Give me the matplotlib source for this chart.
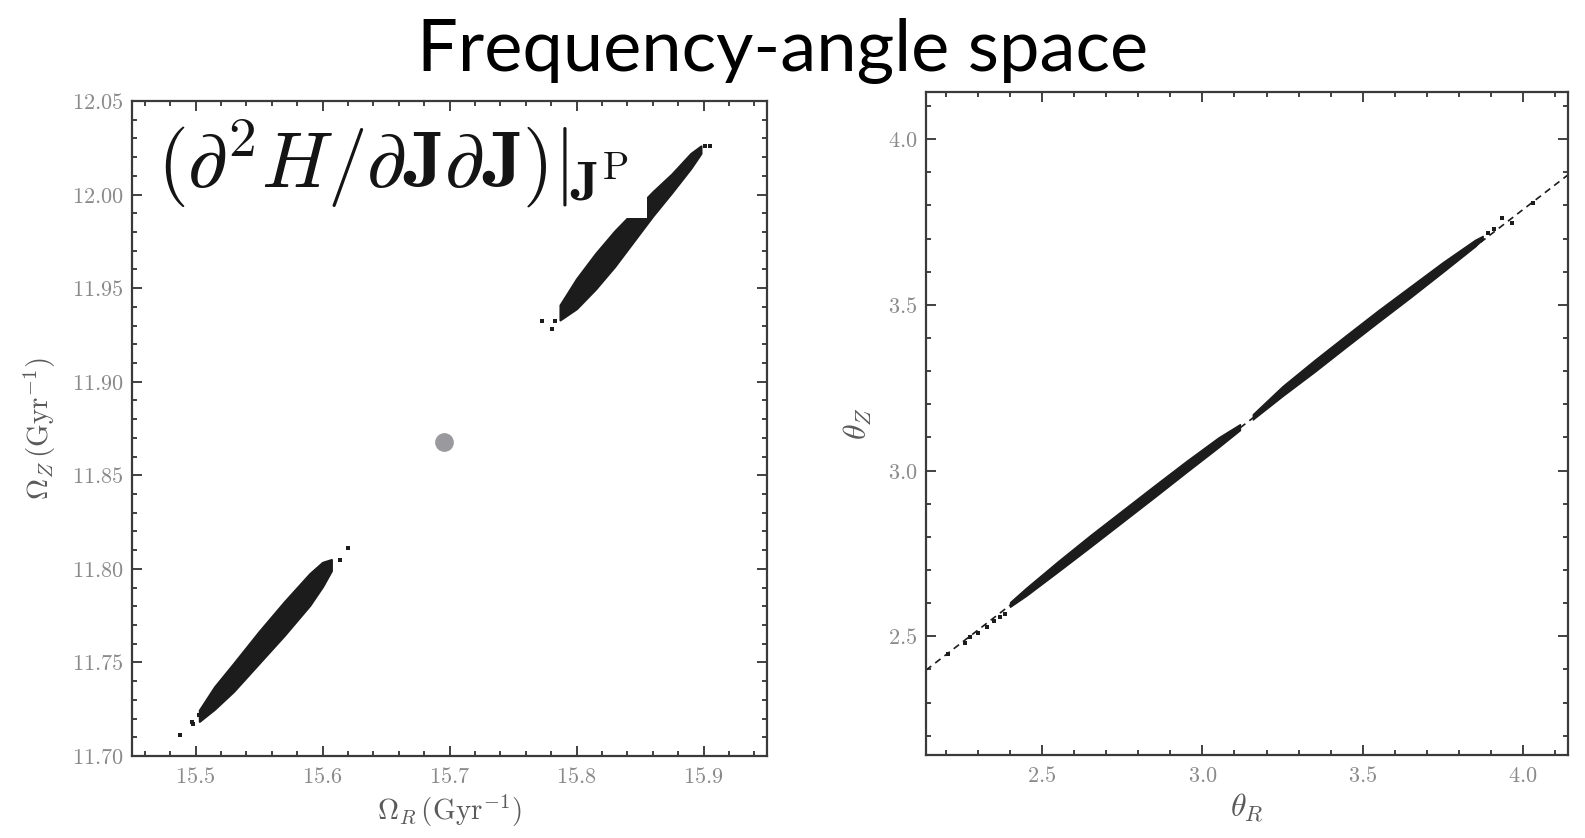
import matplotlib
matplotlib.use("Agg")
import matplotlib.pyplot as plt
from matplotlib.ticker import MultipleLocator, FuncFormatter
from matplotlib.patches import Rectangle

plt.rcParams['mathtext.fontset'] = 'cm'

# ---------------- data ----------------
# Left panel: frequency space, two clumps of stream particles (band edges)
low_x = [15.503, 15.515, 15.530, 15.550, 15.570, 15.590, 15.600, 15.607]
low_lo = [11.7185, 11.725, 11.7345, 11.7495, 11.7645, 11.7805, 11.7905, 11.799]
low_hi = [11.7245, 11.737, 11.7495, 11.7665, 11.7825, 11.7975, 11.8035, 11.805]
low_sparse_x = [15.488, 15.497, 15.498, 15.503, 15.614, 15.620]
low_sparse_y = [11.711, 11.718, 11.717, 11.722, 11.805, 11.811]

up_x = [15.787, 15.800, 15.815, 15.830, 15.845, 15.860, 15.875, 15.890, 15.898]
up_lo = [11.933, 11.939, 11.9495, 11.9615, 11.975, 11.9885, 12.001, 12.014, 12.022]
up_hi = [11.941, 11.955, 11.9685, 11.9805, 11.991, 12.0015, 12.011, 12.022, 12.026]
up_sparse_x = [15.773, 15.781, 15.783, 15.901, 15.905]
up_sparse_y = [11.9325, 11.928, 11.9325, 12.026, 12.026]

progenitor_x = [15.6957]
progenitor_y = [11.8678]

# Right panel: angle space (two stream arms + sparse particles + track)
armA_x = [2.40, 2.45, 2.55, 2.65, 2.75, 2.85, 2.95, 3.05, 3.117]
armA_lo = [2.589, 2.622, 2.695, 2.769, 2.844, 2.919, 2.995, 3.070, 3.122]
armA_hi = [2.603, 2.646, 2.727, 2.805, 2.880, 2.955, 3.029, 3.100, 3.140]
armB_x = [3.157, 3.25, 3.35, 3.45, 3.55, 3.65, 3.75, 3.85, 3.874]
armB_lo = [3.154, 3.225, 3.298, 3.374, 3.449, 3.523, 3.599, 3.676, 3.698]
armB_hi = [3.170, 3.255, 3.334, 3.410, 3.485, 3.557, 3.629, 3.696, 3.708]
sparse_r_x = [2.207, 2.26, 2.276, 2.30, 2.329, 2.35, 2.369, 2.385,
              3.89, 3.91, 3.933, 3.964, 4.03]
sparse_r_y = [2.446, 2.479, 2.497, 2.510, 2.527, 2.545, 2.557, 2.568,
              3.718, 3.730, 3.762, 3.747, 3.807]
track_x = [2.138, 4.14]
track_y = [2.398, 3.892]

title = "Frequency-angle space"
overlay_label = r"$(\partial^2 H/\partial\mathbf{J}\partial\mathbf{J})|_{\!\mathbf{J}^{\mathrm{P}}}$"

# ---------------- figure ----------------
fig = plt.figure(figsize=(15.85, 8.38), dpi=100)
W, H = 1585.0, 838.0
ax1 = fig.add_axes([132 / W, 1 - 756 / H, 635 / W, 655 / H])
ax2 = fig.add_axes([926 / W, 1 - 755 / H, 642 / W, 663 / H])

ink = '#1c1c1c'
tick_col = '#8a8a8a'
lab_col = '#5a5a5a'


def style(ax, xmaj, xmin, ymaj, ymin, xfmt, yfmt):
    ax.xaxis.set_major_locator(MultipleLocator(xmaj))
    ax.xaxis.set_minor_locator(MultipleLocator(xmin))
    ax.yaxis.set_major_locator(MultipleLocator(ymaj))
    ax.yaxis.set_minor_locator(MultipleLocator(ymin))
    ax.xaxis.set_major_formatter(FuncFormatter(lambda v, p: "$" + xfmt.format(v) + "$"))
    ax.yaxis.set_major_formatter(FuncFormatter(lambda v, p: "$" + yfmt.format(v) + "$"))
    ax.tick_params(which='both', direction='in', top=True, right=True,
                   color='#333333', width=1.3, labelcolor=tick_col, labelsize=16)
    ax.tick_params(which='major', length=7)
    ax.tick_params(which='minor', length=3.5)
    ax.tick_params(axis='x', pad=8)
    ax.tick_params(axis='y', pad=6)
    for s in ax.spines.values():
        s.set_linewidth(1.6)
        s.set_color('#3a3a3a')


# Left panel
ax1.fill_between(low_x, low_lo, low_hi, color=ink, lw=1.5, edgecolor=ink)
ax1.fill_between(up_x, up_lo, up_hi, color=ink, lw=1.5, edgecolor=ink)
ax1.scatter(low_sparse_x + up_sparse_x, low_sparse_y + up_sparse_y,
            s=8, marker='s', color=ink, lw=0)
ax1.plot(progenitor_x, progenitor_y, 'o', ms=13.5, color='#9a9a9e', mec='none')
ax1.set_xlim(15.45, 15.95)
ax1.set_ylim(11.70, 12.05)
style(ax1, 0.1, 0.02, 0.05, 0.01, "{:.1f}", "{:.2f}")
ax1.set_xlabel(r"$\Omega_R\,(\mathrm{Gyr}^{-1})$", fontsize=21, color=lab_col, labelpad=4)
ax1.set_ylabel(r"$\Omega_Z\,(\mathrm{Gyr}^{-1})$", fontsize=21, color=lab_col, labelpad=10)

# pasted equation fragment
box = Rectangle((0.036, 0.821), 0.775, 0.147, transform=ax1.transAxes,
                facecolor='white', edgecolor='none', zorder=5)
ax1.add_patch(box)
t = ax1.text(0.039, 0.869, overlay_label, transform=ax1.transAxes,
             fontsize=57, color='#141414', va='baseline', ha='left', zorder=6)
t.set_clip_path(box)

# Right panel
ax2.plot(track_x, track_y, color=ink, lw=1.2, dashes=(4, 3))
ax2.fill_between(armA_x, armA_lo, armA_hi, color=ink, lw=1.0, edgecolor=ink)
ax2.fill_between(armB_x, armB_lo, armB_hi, color=ink, lw=1.0, edgecolor=ink)
ax2.scatter(sparse_r_x, sparse_r_y, s=8, marker='s', color=ink, lw=0)
ax2.set_xlim(2.138, 4.14)
ax2.set_ylim(2.142, 4.142)
style(ax2, 0.5, 0.1, 0.5, 0.1, "{:.1f}", "{:.1f}")
ax2.set_xlabel(r"$\theta_R$", fontsize=23, color=lab_col, labelpad=4)
ax2.set_ylabel(r"$\theta_Z$", fontsize=23, color=lab_col, labelpad=10)

fig.text(782.5 / W, 1 - 71 / H, title, fontsize=52, family='Lato',
         ha='center', va='baseline', color='black')

fig.savefig("out.png", dpi=100)
